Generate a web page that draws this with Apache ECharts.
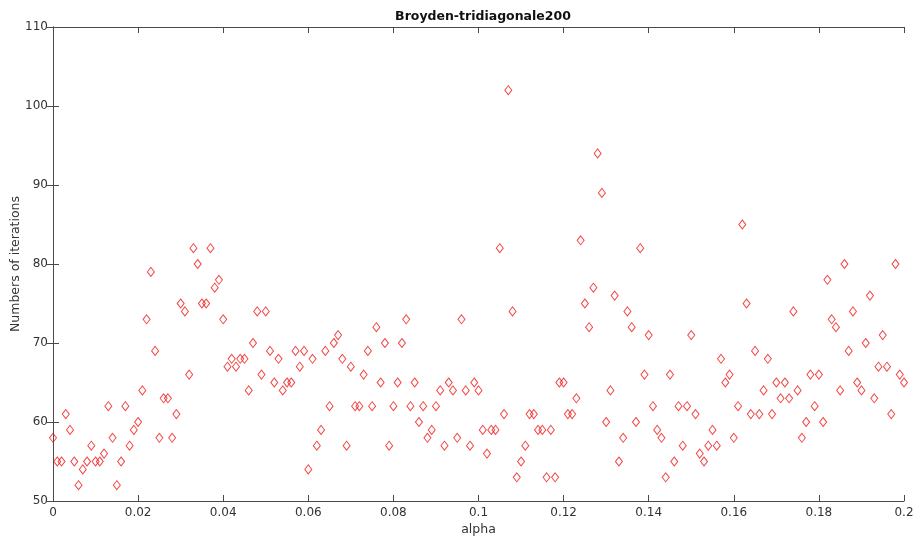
<!DOCTYPE html>
<html>
<head>
<meta charset="utf-8">
<script src="https://cdn.jsdelivr.net/npm/echarts@6/dist/echarts.min.js"></script>
<style>html,body{margin:0;padding:0;background:#fff;}#c{width:917px;height:542px;}</style>
</head>
<body>
<div id="c"></div>
<script>
var title = "Broyden-tridiagonale200";
var xLabel = "alpha";
var yLabel = "Numbers of iterations";
var alphaStep = 0.001;
var iterations = [
  58,55,55,61,59,55,52,54,55,57,55,55,56,62,58,52,55,62,57,59,60,64,73,79,69,
  58,63,63,58,61,75,74,66,82,80,75,75,82,77,78,73,67,68,67,68,68,64,70,74,66,74,
  69,65,68,64,65,65,69,67,69,54,68,57,59,69,62,70,71,68,57,67,62,62,66,69,62,72,
  65,70,57,62,65,70,73,62,65,60,62,58,59,62,64,57,65,64,58,73,64,57,65,64,59,
  56,59,59,82,61,102,74,53,55,57,61,61,59,59,53,59,53,65,65,61,61,63,83,75,72,77,
  94,89,60,64,76,55,58,74,72,60,82,66,71,62,59,58,53,66,55,62,57,62,71,61,56,55,
  57,59,57,68,65,66,58,62,85,75,61,69,61,64,68,61,65,63,65,63,74,64,58,60,66,62,
  66,60,78,73,72,64,80,69,74,65,64,70,76,63,67,71,67,61,80,66,65
];
var xTicks = [0, 0.02, 0.04, 0.06, 0.08, 0.1, 0.12, 0.14, 0.16, 0.18, 0.2];
var yTicks = [50, 60, 70, 80, 90, 100, 110];

var points = iterations.map(function (v, i) { return [Math.round(i * alphaStep * 1000) / 1000, v]; });

var axisColor = '#4a4a4a';
var font = 'DejaVu Sans';
function fmtX(v) { return String(Math.round(v * 1000) / 1000); }

var chart = echarts.init(document.getElementById('c'), null, { renderer: 'canvas' });
chart.setOption({
  animation: false,
  backgroundColor: '#fff',
  title: {
    text: title, left: 478, top: 5, textAlign: 'center',
    textStyle: { fontFamily: font, fontSize: 12.5, fontWeight: 'bold', color: '#111' }
  },
  grid: { left: 53, right: 13, top: 27, bottom: 41, containLabel: false, outerBoundsMode: 'none' },
  xAxis: [{
    type: 'value', min: xTicks[0], max: xTicks[xTicks.length - 1], interval: 0.02,
    name: xLabel, nameLocation: 'middle', nameGap: 22, nameMoveOverlap: false,
    nameTextStyle: { fontFamily: font, fontSize: 12.5, color: '#333' },
    axisLine: { show: true, lineStyle: { color: axisColor, width: 1 } },
    axisTick: { show: true, inside: true, length: 6, lineStyle: { color: axisColor } },
    axisLabel: { fontFamily: font, fontSize: 12, color: '#333', margin: 6, formatter: fmtX },
    splitLine: { show: false }
  }, {
    type: 'value', position: 'top', min: xTicks[0], max: xTicks[xTicks.length - 1], interval: 0.02,
    axisLine: { show: true, lineStyle: { color: axisColor, width: 1 } },
    axisTick: { show: true, inside: true, length: 6, lineStyle: { color: axisColor } },
    axisLabel: { show: false }, splitLine: { show: false }
  }],
  yAxis: [{
    type: 'value', min: yTicks[0], max: yTicks[yTicks.length - 1], interval: 10,
    name: yLabel, nameLocation: 'middle', nameGap: 31, nameRotate: 90, nameMoveOverlap: false,
    nameTextStyle: { fontFamily: font, fontSize: 12.5, color: '#333' },
    axisLine: { show: true, lineStyle: { color: axisColor, width: 1 } },
    axisTick: { show: true, inside: true, length: 6, lineStyle: { color: axisColor } },
    axisLabel: { fontFamily: font, fontSize: 12, color: '#333', margin: 5 },
    splitLine: { show: false }
  }, {
    type: 'value', position: 'right', min: yTicks[0], max: yTicks[yTicks.length - 1], interval: 10,
    axisLine: { show: true, lineStyle: { color: axisColor, width: 1 } },
    axisTick: { show: true, inside: true, length: 6, lineStyle: { color: axisColor } },
    axisLabel: { show: false }, splitLine: { show: false }
  }],
  series: [{
    type: 'scatter',
    xAxisIndex: 0, yAxisIndex: 0,
    data: points,
    symbol: 'diamond',
    symbolSize: [7, 9],
    itemStyle: { color: 'rgba(0,0,0,0)', borderColor: '#f01818', borderWidth: 1 }
  }]
});
</script>
</body>
</html>
